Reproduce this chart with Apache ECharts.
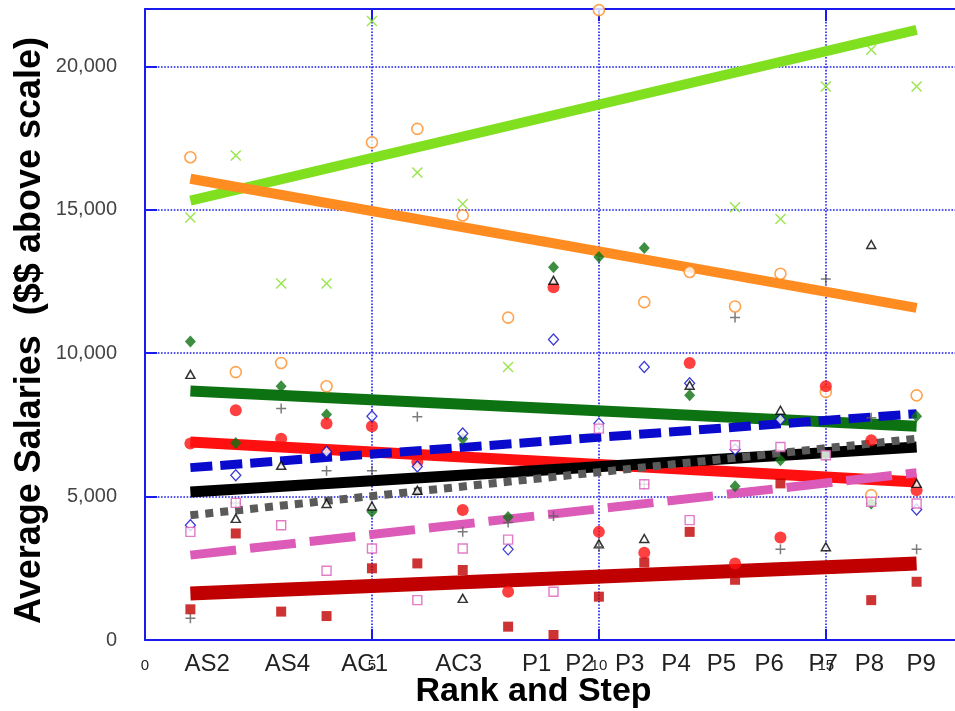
<!DOCTYPE html>
<html>
<head>
<meta charset="utf-8">
<script src="https://cdn.jsdelivr.net/npm/echarts@6/dist/echarts.min.js"></script>
<style>
html,body{margin:0;padding:0;background:#fff;}
#chart{width:955px;height:711px;}
</style>
</head>
<body>
<div id="chart"></div>
<script>
// ---- data ----
const steps = [1, 2, 3, 4, 5, 6, 7, 8, 9, 10, 11, 12, 13, 14, 15, 16, 17];
const rankLabels = ['AS2', 'AS4', 'AC1', 'AC3', 'P1', 'P2', 'P3', 'P4', 'P5', 'P6', 'P7', 'P8', 'P9'];
const rankLabelPos = [1.37, 3.14, 4.84, 6.91, 8.63, 9.58, 10.68, 11.7, 12.7, 13.75, 14.94, 15.96, 17.1];
const yTicks = [0, 5000, 10000, 15000, 20000];
const xTicks = [0, 5, 10, 15];

const lightGreenX = [14730, 16890, 12430, 12430, 21580, 16300, 15200, 9520, null, null, null, null, 15090, 14680, 19300, 20580, 19300];
const orangeCircle = [16830, 9340, 9660, 8845, 17350, 17820, 14800, 11240, null, 21960, 11780, 12830, 11630, 12770, 8650, 5050, 8530];
const greenDiamond = [10410, 6870, 8845, 7860, 4470, null, 7020, 4290, 13000, 13350, 13670, 8530, 5360, 6270, 6440, 4760, 7800];
const redCircle = [6850, 8010, 7020, 7545, 7450, 6210, 4530, 1680, 12300, 3770, 3040, 9660, 2670, 3575, 8845, 6960, 5220];
const blueDiamond = [4000, 5745, null, 6560, 7800, 6050, 7200, 3160, 10480, 7545, 9520, 8950, 6640, 7685, null, null, 4550];
const blackTriangle = [9260, 4240, 6090, 4760, 4670, 5220, 1450, null, 12540, 3350, 3540, 8880, null, 8010, 3250, 13790, 5460];
const grayPlus = [760, 4780, 8070, 5900, 5900, 7780, 3770, 4100, 4320, 3250, 5430, null, 11240, 3160, 12590, 7750, 3160];
const pinkSquare = [3770, 4780, 4000, 2415, 3190, 1390, 3190, 3500, 1680, 7370, 5430, 4180, 6790, 6730, 6440, 4820, 4760];
const darkRedSquare = [1070, 3715, 990, 835, 2500, 2670, 2440, 465, 175, 1510, 2700, 3770, 2100, 5460, null, 1390, 2030];

// trend line end points (at step 1 and step 17)
const trendX = [1, 17];
const trendLightGreen = [15320, 21270];
const trendOrange = [16080, 11580];
const trendGreen = [8680, 7450];
const trendRed = [6900, 5510];
const trendBlue = [6010, 7890];
const trendBlack = [5160, 6730];
const trendGray = [4350, 7020];
const trendPink = [2960, 5830];
const trendDarkRed = [1625, 2670];

// ---- styles ----
const AXIS_BLUE = '#1a1aee';
const C = {
  lightGreen: '#80e020', orange: '#ff8c21', green: '#0c7212', red: '#ff1010',
  blue: '#0a0acc', black: '#000000', gray: '#5a5a5a', pink: '#dc5ab8', darkRed: '#c00000'
};

function pts(vals) {
  const out = [];
  steps.forEach((s, i) => { if (vals[i] != null) out.push([s, vals[i]]); });
  return out;
}
function scatter(vals, symbol, size, itemStyle) {
  return {
    type: 'scatter', data: pts(vals), symbol: symbol, symbolSize: size,
    itemStyle: itemStyle, z: 5, silent: true, emphasis: {disabled: true}
  };
}
function trend(vals, color, width, dash) {
  return {
    type: 'line', data: [[trendX[0], vals[0]], [trendX[1], vals[1]]],
    symbol: 'none', z: 3, silent: true, emphasis: {disabled: true},
    lineStyle: {color: color, width: width, type: dash || 'solid', cap: 'butt'}
  };
}

const CROSS = 'path://M0,0L10,10M0,10L10,0';
const PLUS = 'path://M5,0L5,10M0,5L10,5';

const chart = echarts.init(document.getElementById('chart'), null, {renderer: 'canvas'});
chart.setOption({
  animation: false,
  backgroundColor: '#ffffff',
  grid: {left: 145, top: 9, bottom: 71, right: -7, containLabel: false, outerBoundsMode: 'none'},
  xAxis: [
    {
      type: 'value', min: 0, max: 18, interval: 5, position: 'bottom',
      name: 'Rank and Step', nameLocation: 'middle', nameGap: 35, nameMoveOverlap: false,
      nameTextStyle: {fontFamily: 'Liberation Sans', fontWeight: 'bold', fontSize: 34, color: '#000', verticalAlign: 'top', padding: [0, 40, 0, 0]},
      axisLine: {show: true, onZero: false, lineStyle: {color: AXIS_BLUE, width: 2}},
      axisTick: {show: true, inside: true, length: 11, lineStyle: {color: AXIS_BLUE, width: 2}},
      axisLabel: {show: true, margin: 18, fontFamily: 'Liberation Sans', fontSize: 15, color: '#222',
        customValues: xTicks},
      splitLine: {show: true, lineStyle: {color: AXIS_BLUE, width: 1.6, type: [1.6, 1.6]}}
    },
    {
      type: 'value', min: 0, max: 18, position: 'bottom', gridIndex: 0,
      axisLine: {show: false}, axisTick: {show: false}, splitLine: {show: false},
      axisLabel: {show: true, margin: 12, fontFamily: 'Liberation Sans', fontSize: 24, color: '#222',
        customValues: rankLabelPos,
        formatter: function (v) { const i = rankLabelPos.indexOf(v); return i >= 0 ? rankLabels[i] : ''; }}
    },
    {
      type: 'value', min: 0, max: 18, interval: 5, position: 'top', gridIndex: 0,
      axisLine: {show: true, onZero: false, lineStyle: {color: AXIS_BLUE, width: 2}},
      axisTick: {show: true, inside: true, length: 12, lineStyle: {color: AXIS_BLUE, width: 2}},
      axisLabel: {show: false}, splitLine: {show: false}
    }
  ],
  yAxis: [{
    type: 'value', min: 0, max: 22000, interval: 5000,
    name: 'Average Salaries  ($$ above scale)', nameLocation: 'middle', nameGap: 97, nameMoveOverlap: false,
    nameTextStyle: {fontFamily: 'Liberation Sans', fontWeight: 'bold', fontSize: 36, color: '#000', padding: [0, 12, 0, 0]},
    axisLine: {show: true, onZero: false, lineStyle: {color: AXIS_BLUE, width: 2}},
    axisTick: {show: true, inside: true, length: 12, lineStyle: {color: AXIS_BLUE, width: 2}},
    axisLabel: {show: true, margin: 28, fontFamily: 'Liberation Sans', fontSize: 20, color: '#444',
      customValues: yTicks,
      formatter: function (v) { return v.toLocaleString('en-US'); }},
    splitLine: {show: true, lineStyle: {color: AXIS_BLUE, width: 1.6, type: [1.6, 1.6]}}
  }],
  series: [
    trend(trendLightGreen, C.lightGreen, 10),
    trend(trendOrange, C.orange, 10),
    trend(trendGreen, C.green, 11),
    trend(trendRed, C.red, 11),
    trend(trendBlue, C.blue, 9, [22, 8]),
    trend(trendBlack, C.black, 11),
    trend(trendGray, C.gray, 8, [8, 7]),
    trend(trendPink, C.pink, 9, [46, 14]),
    trend(trendDarkRed, C.darkRed, 14),

    scatter(lightGreenX, CROSS, 10, {color: 'transparent', borderColor: C.lightGreen, borderWidth: 1.4}),
    scatter(orangeCircle, 'circle', 11, {color: '#ffffff', borderColor: C.orange, borderWidth: 1.6}),
    scatter(greenDiamond, 'diamond', [11, 12], {color: C.green}),
    scatter(redCircle, 'circle', 12, {color: C.red}),
    scatter(blueDiamond, 'diamond', [10, 11], {color: '#ffffff', borderColor: C.blue, borderWidth: 1.3}),
    scatter(blackTriangle, 'triangle', [9, 8], {color: '#ffffff', borderColor: C.black, borderWidth: 1.5}),
    scatter(grayPlus, PLUS, 10, {color: 'transparent', borderColor: C.gray, borderWidth: 1.5}),
    scatter(pinkSquare, 'rect', 9, {color: '#ffffff', borderColor: C.pink, borderWidth: 1.4}),
    scatter(darkRedSquare, 'rect', 10, {color: C.darkRed})
  ]
});
</script>
</body>
</html>
